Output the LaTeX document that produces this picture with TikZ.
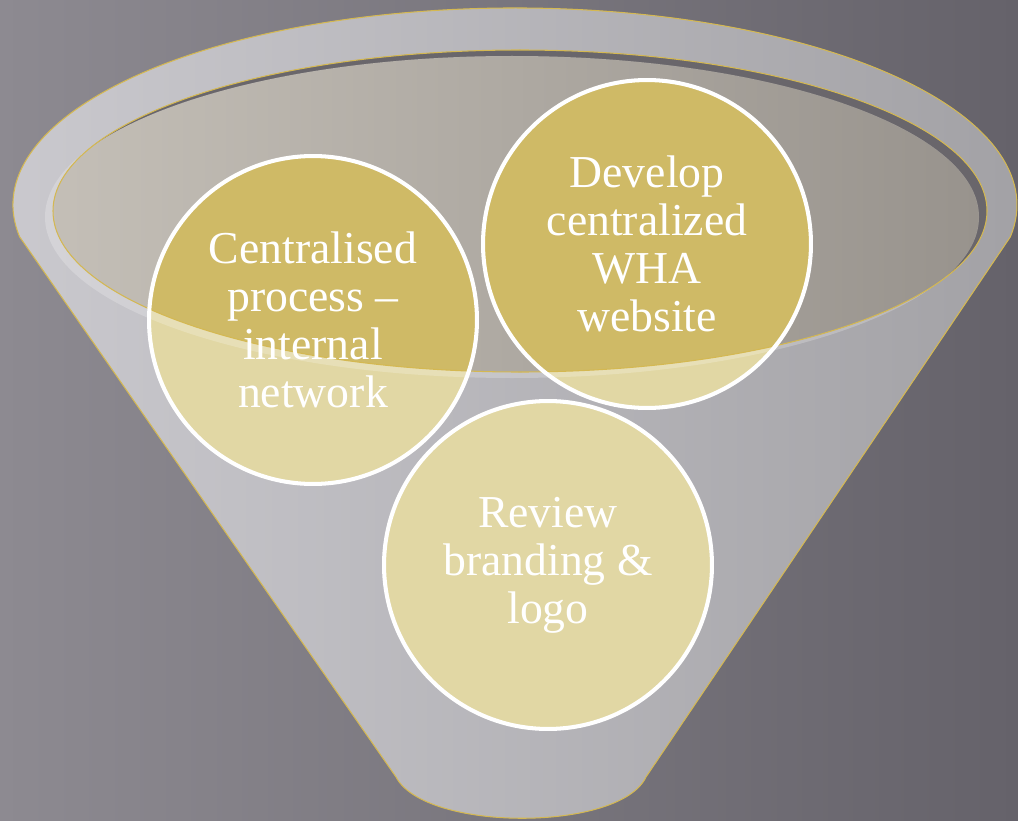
\documentclass[tikz,border=0pt]{standalone}
\usepackage{fontspec}
\setmainfont{Liberation Serif}
\usepackage{tikz}
\definecolor{bgLight}{HTML}{8D8A91}
\definecolor{bgDark}{HTML}{65626A}
\definecolor{rimLeft}{HTML}{CBCACF}
\definecolor{rimRight}{HTML}{A2A1A5}
\definecolor{holeDark}{HTML}{69666B}
\definecolor{lensLeft}{HTML}{C4BFB7}
\definecolor{lensRight}{HTML}{98938D}
\definecolor{goldLine}{HTML}{D4B852}
\definecolor{goldDark}{HTML}{CFBA66}
\definecolor{goldLight}{HTML}{E1D7A4}

\begin{document}
\begin{tikzpicture}[x=0.02cm, y=-0.02cm,
  bubble/.style={circle, draw=white, line width=2.3pt, minimum size=6.56cm, inner sep=0pt,
    align=center, text=white, font=\fontsize{26}{27.3}\selectfont},
  lens/.style={x radius=467, y radius=161}]
	\useasboundingbox (0,0) rectangle (1018,821);
	\shade[left color=bgLight, right color=bgDark] (0,0) rectangle (1018,821);
	\shade[left color=rimLeft, right color=rimRight, draw=goldLine, line width=0.6pt]
	  (19.6,236.8) arc[start angle=170.7, end angle=369.3, x radius=502, y radius=197]
	  -- (646,777) .. controls (620,832) and (425,832) .. (396,777) -- cycle;
	\coordinate (rim) at (520,211);
	\coordinate (glass) at (512,217);
	\fill[holeDark] (rim) ellipse[lens];
	\begin{scope}
	  \clip (rim) ellipse[lens];
	  \shade[left color=lensLeft, right color=lensRight] (glass) ellipse[lens];
	\end{scope}
	\coordinate (p1) at (313,320);
	\coordinate (p2) at (647,244);
	\coordinate (p3) at (548,565);
	\foreach \p in {p1,p2,p3}
	  \fill[goldLight] (\p) circle[radius=164];
	\begin{scope}
	  \clip (rim) ellipse[lens];
	  \foreach \p in {p1,p2,p3}
	    \fill[goldDark] (\p) circle[radius=164];
	\end{scope}
	\begin{scope}
	  \clip (glass) ellipse[lens];
	  \fill[white, opacity=.22, even odd rule] (glass) ellipse[lens] (rim) ellipse[lens];
	\end{scope}
	\draw[goldLine, line width=0.6pt] (rim) ellipse[lens];
	\node[bubble] (process) at (p1) {Centralised\\process --\\internal\\network};
	\node[bubble] (website) at (p2) {Develop\\centralized\\WHA\\website};
	\node[bubble] (branding) at (p3) {Review\\branding \&\\logo};
\end{tikzpicture}
\end{document}
